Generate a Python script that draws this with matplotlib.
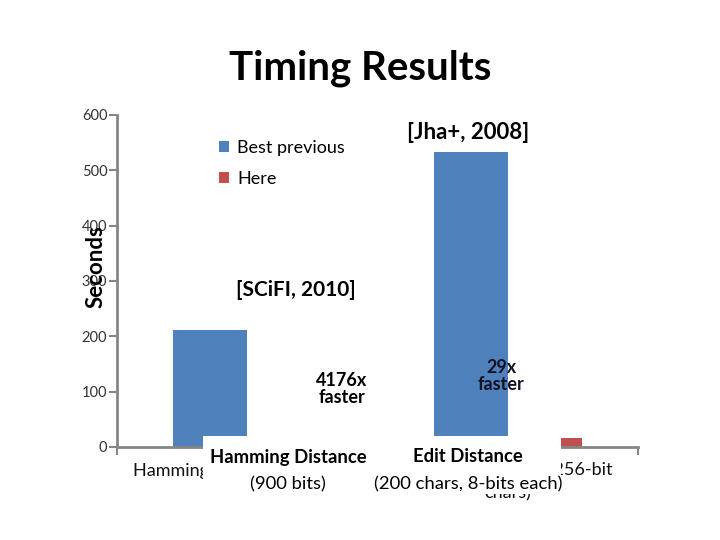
import matplotlib
matplotlib.use("Agg")
import matplotlib.pyplot as plt
from matplotlib.patches import Rectangle
import numpy as np

plt.rcParams['font.family'] = ['Lato', 'DejaVu Sans']

categories = ["Hamming Distance (900 bits)", "Edit Distance (200 256-bit\nchars)"]
best_previous = [211, 534]
here = [0.05, 17]
series_names = ["Best previous", "Here"]
yticks = [0, 100, 200, 300, 400, 500, 600]

blue = "#4F81BD"
red = "#C0504D"
gray = "#868686"

fig = plt.figure(figsize=(7.2, 5.4), dpi=100)
ax = fig.add_axes([117/720, 1-447/540, (638-117)/720, (447-115)/540])

x = np.arange(len(categories))
w = 0.284
ax.bar(x - w/2, best_previous, w, color=blue, label=series_names[0], zorder=2)
ax.bar(x + w/2, here, w, color=red, label=series_names[1], zorder=2)

ax.set_xlim(-0.5, 1.5)
ax.set_ylim(0, 600)
ax.set_yticks(yticks)
ax.set_yticklabels([str(v) for v in yticks], fontsize=10.5, color="#333333")
ax.set_xticks(x)
ax.set_xticklabels(categories, fontsize=13, color="#111111", linespacing=1.5)
ax.tick_params(axis='x', length=0, pad=11)
ax.set_xticks([-0.5, 0.5, 1.5], minor=True)
ax.tick_params(axis='x', which='minor', length=6, width=1.5, color=gray, direction='out')
ax.tick_params(axis='y', length=6, width=1.5, color=gray, direction='out', pad=1)
for s in ['top', 'right']:
    ax.spines[s].set_visible(False)
for s in ['left', 'bottom']:
    ax.spines[s].set_color(gray)
    ax.spines[s].set_linewidth(2)

ax.set_ylabel("Seconds", fontsize=16, fontweight='bold')
ax.yaxis.set_label_coords(-0.02, (447-267)/(447-115))

leg = ax.legend(loc='upper left', bbox_to_anchor=(0.165, 0.975), frameon=False,
                fontsize=13, handlelength=0.55, handleheight=0.55, handletextpad=0.45,
                labelspacing=0.85)

fig.text(0.5, 1-68/540, "Timing Results", ha='center', va='center', fontsize=29, fontweight='bold')

fig.text(468/720, 1-133/540, "[Jha+, 2008]", ha='center', va='center', fontsize=16, fontweight='bold')
fig.text(236/720, 1-290/540, "[SCiFI, 2010]", ha='left', va='center', fontsize=15, fontweight='bold')
fig.text(342/720, 1-389/540, "4176x\nfaster", ha='center', va='center', fontsize=13, fontweight='bold', linespacing=0.95)
fig.text(501/720, 1-376/540, "29x\nfaster", ha='center', va='center', fontsize=13, fontweight='bold', linespacing=0.95, color="#111122")

# white overlay text box
fig.patches.append(Rectangle((203/720, 1-494/540), (561-203)/720, (494-436)/540,
                             transform=fig.transFigure, facecolor='white', edgecolor='none', zorder=5))
fig.text(288/720, 1-457/540, "Hamming Distance", ha='center', va='center', fontsize=13.3, fontweight='bold', zorder=6)
fig.text(288/720, 1-484/540, "(900 bits)", ha='center', va='center', fontsize=13.3, zorder=6)
fig.text(468/720, 1-457/540, "Edit Distance", ha='center', va='center', fontsize=13.3, fontweight='bold', zorder=6)
fig.text(468/720, 1-484/540, "(200 chars, 8-bits each)", ha='center', va='center', fontsize=13.3, zorder=6)

fig.savefig("out.png", dpi=100)
